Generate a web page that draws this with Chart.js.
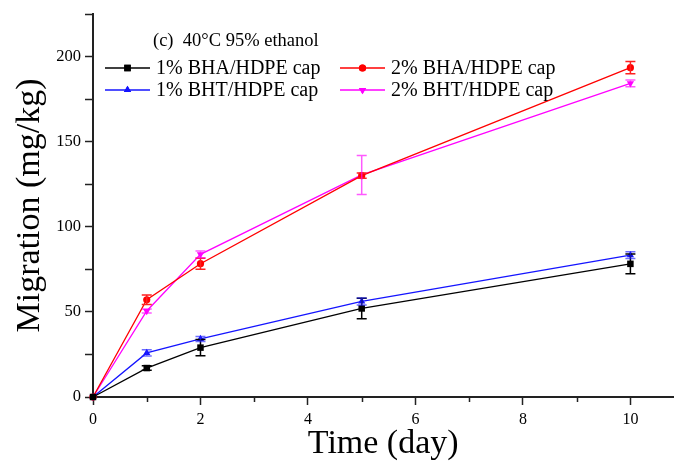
<!DOCTYPE html>
<html>
<head>
<meta charset="utf-8">
<script src="https://cdn.jsdelivr.net/npm/chart.js@4/dist/chart.umd.min.js"></script>
<style>
html,body{margin:0;padding:0;background:#fff;}
#wrap{width:678px;height:464px;position:relative;}
</style>
</head>
<body>
<div id="wrap"><canvas id="c" width="678" height="464"></canvas></div>
<script>
const days = [0, 1, 2, 5, 10];
const labels = ['1% BHA/HDPE cap', '2% BHA/HDPE cap', '1% BHT/HDPE cap', '2% BHT/HDPE cap'];
const bha1 = [0, 17, 29, 52, 78.2];
const bha1Err = [0, 1.3, 4.7, 6, 5.8];
const bha2 = [0, 57.1, 78.3, 130, 193.4];
const bha2Err = [0, 2.8, 3.2, 1.5, 3.6];
const bht1 = [0, 25.9, 34.1, 56.1, 83.3];
const bht1Err = [0, 1.8, 1.5, 2, 2];
const bht2 = [0, 50.5, 83.8, 130.4, 184.2];
const bht2Err = [0, 1.2, 2, 11.4, 2];
const xTickValues = [0, 2, 4, 6, 8, 10];
const yTickValues = [0, 50, 100, 150, 200];
const titleText = '(c)  40°C 95% ethanol';
const FONT = "'Liberation Serif', 'Times New Roman', serif";

function pts(arr){ return days.map((d,i)=>({x:d, y:arr[i]})); }

const seriesColors = ['#000000', '#ff0000', '#1414ff', '#ff00ff'];
const errColors = ['#000000', '#ff2020', 'rgba(30,30,255,0.65)', 'rgba(255,0,255,0.65)'];
const pointStyles = ['rect', 'circle', 'triangle', 'triangle'];
const rotations = [0, 0, 0, 180];
const radii = [4.6, 3.6, 4.2, 4.2];
const errs = [bha1Err, bha2Err, bht1Err, bht2Err];

const datasets = [bha1, bha2, bht1, bht2].map((arr, i) => ({
  label: labels[i],
  data: pts(arr),
  borderColor: seriesColors[i],
  backgroundColor: seriesColors[i],
  borderWidth: 1.3,
  pointStyle: pointStyles[i],
  rotation: rotations[i],
  pointRadius: radii[i],
  pointBorderWidth: 0,
  pointBackgroundColor: seriesColors[i],
  tension: 0,
  clip: false
}));

const errorBars = {
  id: 'errorBars',
  afterDatasetsDraw(chart) {
    const ctx = chart.ctx, ys = chart.scales.y;
    chart.data.datasets.forEach((ds, i) => {
      const meta = chart.getDatasetMeta(i);
      ctx.save();
      ctx.strokeStyle = errColors[i];
      ctx.lineWidth = 1.5;
      meta.data.forEach((p, j) => {
        const e = errs[i][j];
        if (!e) return;
        const v = ds.data[j].y;
        const yHi = ys.getPixelForValue(v + e), yLo = ys.getPixelForValue(v - e);
        ctx.beginPath();
        ctx.moveTo(p.x, yHi); ctx.lineTo(p.x, yLo);
        ctx.moveTo(p.x - 5, yHi); ctx.lineTo(p.x + 5, yHi);
        ctx.moveTo(p.x - 5, yLo); ctx.lineTo(p.x + 5, yLo);
        ctx.stroke();
      });
      ctx.restore();
    });
  }
};

const minorTicks = {
  id: 'minorTicks',
  afterDraw(chart) {
    const ctx = chart.ctx, xs = chart.scales.x, ys = chart.scales.y;
    const ca = chart.chartArea;
    ctx.save();
    ctx.strokeStyle = '#222';
    ctx.lineWidth = 1.5;
    ctx.beginPath();
    for (let v = 1; v <= 9; v += 2) {
      const x = Math.round(xs.getPixelForValue(v)) + 0.5;
      ctx.moveTo(x, ca.bottom); ctx.lineTo(x, ca.bottom + 5);
    }
    for (let v = 25; v <= 225; v += 50) {
      const y = Math.round(ys.getPixelForValue(v)) + 0.5;
      ctx.moveTo(ca.left, y); ctx.lineTo(ca.left - 8, y);
    }
    ctx.stroke();
    ctx.restore();
  }
};

const legendDraw = {
  id: 'legendDraw',
  afterDraw(chart) {
    const ctx = chart.ctx;
    ctx.save();
    ctx.fillStyle = '#000';
    ctx.font = '18.5px ' + FONT;
    ctx.textBaseline = 'alphabetic';
    ctx.fillText(titleText, 153, 46);
    const items = [
      {i:0, x:105, y:68},
      {i:1, x:340, y:68},
      {i:2, x:105, y:90},
      {i:3, x:340, y:90}
    ];
    ctx.font = '20px ' + FONT;
    items.forEach(it => {
      const c = seriesColors[it.i];
      ctx.strokeStyle = c;
      ctx.lineWidth = 1.3;
      ctx.beginPath();
      ctx.moveTo(it.x, it.y); ctx.lineTo(it.x + 45, it.y);
      ctx.stroke();
      ctx.fillStyle = c;
      Chart.helpers.drawPoint(ctx, {
        pointStyle: pointStyles[it.i], rotation: rotations[it.i],
        radius: radii[it.i], borderWidth: 0
      }, it.x + 22.5, it.y);
      ctx.fill();
      ctx.fillStyle = '#000';
      ctx.fillText(labels[it.i], it.x + 51, it.y + 6);
    });
    ctx.restore();
  }
};

new Chart(document.getElementById('c'), {
  type: 'line',
  data: { datasets },
  plugins: [errorBars, minorTicks, legendDraw],
  options: {
    responsive: false,
    animation: false,
    layout: { padding: { top: 12, right: 0, left: 0, bottom: 0 } },
    plugins: { legend: { display: false }, tooltip: { enabled: false } },
    scales: {
      x: {
        type: 'linear',
        min: 0, max: 10.8,
        afterFit(s){ s.height = 67; },
        afterBuildTicks(s){ s.ticks = xTickValues.map(v => ({value: v})); },
        ticks: { includeBounds: false, color: '#000', font: { family: FONT, size: 16 }, padding: 5, maxRotation: 0 },
        grid: { display: true, drawOnChartArea: false, tickLength: 8, tickColor: '#222', tickWidth: 1.5 },
        border: { color: '#222', width: 2 },
        title: { display: true, text: 'Time (day)', color: '#000', font: { family: FONT, size: 34 }, padding: { top: 0, bottom: 0 } }
      },
      y: {
        type: 'linear',
        min: 0, max: 225,
        afterFit(s){ s.width = 93; },
        afterBuildTicks(s){ s.ticks = yTickValues.map(v => ({value: v})); },
        ticks: { includeBounds: false, color: '#000', font: { family: FONT, size: 16.5 }, padding: 4 },
        grid: { display: true, drawOnChartArea: false, tickLength: 8, tickColor: '#222', tickWidth: 1.5 },
        border: { color: '#222', width: 2 },
        title: { display: true, text: 'Migration (mg/kg)', color: '#000', font: { family: FONT, size: 34 }, padding: { top: 10, bottom: 0 } }
      }
    }
  }
});
</script>
</body>
</html>
